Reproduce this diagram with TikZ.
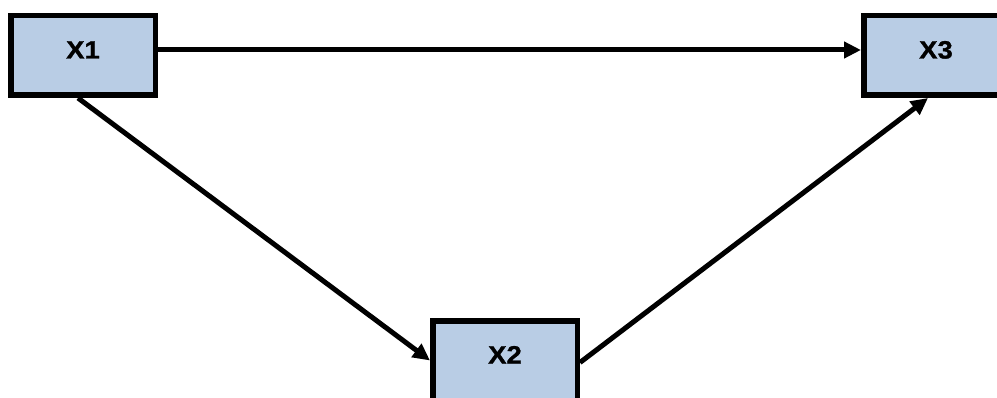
\documentclass[tikz,border=0pt]{standalone}
\usepackage{fontspec}
\setmainfont{Liberation Sans}
\newfontfamily\labelfont[FakeStretch=1.1,BoldFeatures={FakeBold=1.2}]{Liberation Sans}
\usetikzlibrary{arrows.meta}
\definecolor{boxfill}{HTML}{B9CDE5}
\begin{document}
\begin{tikzpicture}[x=1pt,y=1pt,
  varbox/.style={draw=black, line width=5.5pt, fill=boxfill, minimum width=144.5pt, minimum height=79.5pt,
    inner sep=0pt, font=\labelfont\fontsize{25}{29}\selectfont\bfseries, text height=18pt, text depth=12pt},
  conn/.style={line width=5pt, -{Triangle[length=17pt,width=16pt]}}]
\useasboundingbox (0,0) rectangle (997,397);
\clip (0,0) rectangle (997,397);
\node[varbox] (X1) at (83,341.5) {X1};
\node[varbox] (X3) at (936,341.5) {X3};
\node[varbox] (X2) at (505,36.5) {X2};
\draw[conn] ([yshift=5.5pt]X1.east) -- ([yshift=5.5pt]X3.west);
\draw[conn] ([xshift=-5pt]X1.south) -- (X2.west);
\draw[conn] ([yshift=-2pt]X2.east) -- ([xshift=-8pt]X3.south);
\end{tikzpicture}
\end{document}
